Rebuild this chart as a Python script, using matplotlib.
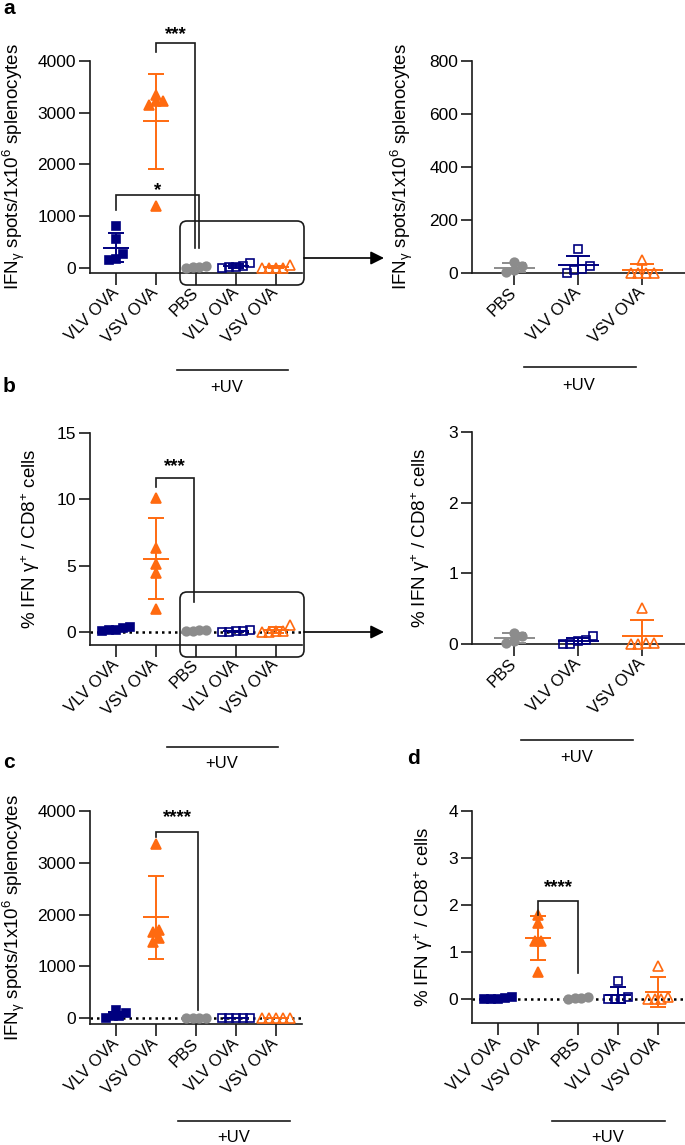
import matplotlib
matplotlib.use("Agg")
import matplotlib.pyplot as plt
import numpy as np
from matplotlib.patches import FancyBboxPatch

plt.rcParams['font.family'] = ['Liberation Sans', 'DejaVu Sans']
plt.rcParams['mathtext.fontset'] = 'custom'
plt.rcParams['mathtext.rm'] = 'Liberation Sans'
plt.rcParams['mathtext.it'] = 'Liberation Sans:italic'
plt.rcParams['mathtext.bf'] = 'Liberation Sans:bold'

# ---- data ----
all_groups = ['VLV OVA', 'VSV OVA', 'PBS', 'VLV OVA', 'VSV OVA']
uv_groups = ['PBS', 'VLV OVA', 'VSV OVA']

# a: ELISpot, IFNg spots / 1e6 splenocytes
a_vlv = [800, 560, 260, 150, 170]
a_vsv = [3350, 3230, 3150, 3220, 1200]
a_pbs_uv = [41, 3, 25, 10]
a_vlv_uv = [0, 28, 92, 10, 16]
a_vsv_uv = [0, 0, 50, 0, 0]

# b: % IFNg+ / CD8+
b_vlv = [0.35, 0.25, 0.15, 0.1, 0.05]
b_vsv = [10.1, 6.3, 5.1, 4.4, 1.7]
b_pbs_uv = [0.16, 0.02, 0.12, 0.04]
b_vlv_uv = [0.0, 0.11, 0.04, 0.06, 0.0]
b_vsv_uv = [0.0, 0.02, 0.51, 0.0, 0.02]

# c: ELISpot
c_vlv = [150, 90, 40, 30, 10]
c_vsv = [3370, 1460, 1660, 1700, 1540]
c_pbs_uv = [0, 0, 0, 0]
c_vlv_uv = [0, 0, 0, 0, 0]
c_vsv_uv = [0, 0, 0, 0, 0]

# d: % IFNg+ / CD8+
d_vlv = [0.05, 0.02, 0.01, 0.0, 0.03]
d_vsv = [1.8, 1.63, 1.25, 1.23, 0.58]
d_pbs_uv = [0.05, 0.03, 0.04, 0.02]
d_vlv_uv = [0.4, 0.0, 0.05, 0.02, 0.0]
d_vsv_uv = [0.72, 0.02, 0.0, 0.05, 0.0]

NAVY = '#00007f'
ORANGE = '#ff6a10'
GRAY = '#8c8c8c'
INK = '#1a1a1a'
FS_YTICK = 12.5
FS_XTICK = 12
FS_LABEL = 13.5
FS_UV = 12

styles = [
    dict(marker='s', color=NAVY, filled=True, ms=6.2),
    dict(marker='^', color=ORANGE, filled=True, ms=6.8),
    dict(marker='o', color=GRAY, filled=True, ms=6.2),
    dict(marker='s', color=NAVY, filled=False, ms=6.4),
    dict(marker='^', color=ORANGE, filled=False, ms=7.0),
]

W, H = 685, 1145
fig = plt.figure(figsize=(W / 100, H / 100), dpi=100)


def add_ax(l, t, r, b):
    return fig.add_axes([l / W, 1 - b / H, (r - l) / W, (b - t) / H])


def style_ax(ax, xlim, ylim, yticks, labels, ylabel, label_right_px, left_px):
    ax.set_xlim(*xlim)
    ax.set_ylim(*ylim)
    for s in ['top', 'right']:
        ax.spines[s].set_visible(False)
    for s in ['left', 'bottom']:
        ax.spines[s].set_linewidth(1.2)
        ax.spines[s].set_color(INK)
    ax.set_yticks(yticks)
    ax.set_yticklabels([str(t) for t in yticks], fontsize=FS_YTICK)
    ax.set_xticks(range(len(labels)))
    ax.set_xticklabels(labels, fontsize=FS_XTICK, rotation=45, ha='right',
                       va='center', rotation_mode='anchor')
    ax.tick_params(axis='y', length=8, width=1.2, color=INK, pad=2)
    ax.tick_params(axis='x', length=8.5, width=1.2, color=INK, pad=4)
    ax.patch.set_visible(False)
    ax.set_ylabel(ylabel, fontsize=FS_LABEL)
    w_px = ax.get_position().width * W
    ax.yaxis.set_label_coords((label_right_px - left_px) / w_px, 0.5)


def swarm(ax, xc, values, diam_px):
    vals = np.asarray(values, dtype=float)
    pts = ax.transData.transform(np.column_stack([np.full(len(vals), xc), vals]))
    ypx = pts[:, 1]
    px_per_x = ax.transData.transform((1, 0))[0] - ax.transData.transform((0, 0))[0]
    order = np.argsort(ypx)
    xs = np.zeros(len(vals))
    rows, row = [], []
    for i in order:
        if row and ypx[i] - ypx[row[0]] > diam_px * 0.9:
            rows.append(row)
            row = []
        row.append(i)
    rows.append(row)
    sp = diam_px * 0.85
    for r in rows:
        n = len(r)
        for k, i in enumerate(r):
            xs[i] = xc + (k - (n - 1) / 2) * sp / px_per_x
    return xs, vals


def draw_group(ax, xc, values, st, diam_px=8.0):
    xs, vals = swarm(ax, xc, values, diam_px)
    ax.plot(xs, vals, ls='none', marker=st['marker'], ms=st['ms'],
            mfc=st['color'] if st['filled'] else 'none', mec=st['color'],
            mew=1.2, clip_on=False, zorder=3)
    m = np.mean(vals)
    sd = np.std(vals, ddof=1)
    c = st['color']
    ax.hlines(m, xc - 0.32, xc + 0.32, color=c, lw=1.4, zorder=4)
    if sd > 0:
        ax.vlines(xc, m - sd, m + sd, color=c, lw=1.4, zorder=4)
        ax.hlines([m - sd, m + sd], xc - 0.19, xc + 0.19, color=c, lw=1.4, zorder=4)


def bracket(ax, x1, x2, y1, y2, ytop, text, ytext):
    ax.plot([x1, x1, x2, x2], [y1, ytop, ytop, y2], color=INK, lw=1.2,
            clip_on=False, zorder=5, solid_joinstyle='miter')
    ax.text((x1 + x2) / 2, ytext, text, ha='center', va='center',
            fontsize=13.5, fontweight='bold', clip_on=False)


def dotted_zero(ax):
    ax.axhline(0, color='black', ls=(0, (1, 1.6)), lw=1.8, zorder=1)


left_xlim = (-0.65, 4.65)
right_xlim = (-0.656, 2.67)
ifn_label = r'IFN$_{\mathregular{γ}}$ spots/1x10$^{\mathregular{6}}$ splenocytes'
pct_label = r'% IFN γ$^{\mathregular{+}}$ / CD8$^{\mathregular{+}}$ cells'

# ---- panel a ----
ax = add_ax(90, 61, 302, 273)
style_ax(ax, left_xlim, (-100, 4000), [0, 1000, 2000, 3000, 4000],
         all_groups, ifn_label, 27, 90)
for i, vals in enumerate([a_vlv, a_vsv, a_pbs_uv, a_vlv_uv, a_vsv_uv]):
    draw_group(ax, i, vals, styles[i])
bracket(ax, 1, 1.98, 4178, 387, 4352, '***', 4520)
bracket(ax, 0, 2.07, 1122, 387, 1412, '*', 1500)

ax = add_ax(472, 61, 685, 273)
style_ax(ax, right_xlim, (0, 800), [0, 200, 400, 600, 800],
         uv_groups, ifn_label, 415, 472)
for i, vals in enumerate([a_pbs_uv, a_vlv_uv, a_vsv_uv]):
    draw_group(ax, i, vals, styles[i + 2], diam_px=9.0)

# ---- panel b ----
ax = add_ax(90, 433, 302, 645)
style_ax(ax, left_xlim, (-1, 15), [0, 5, 10, 15],
         all_groups, pct_label, 42, 90)
dotted_zero(ax)
for i, vals in enumerate([b_vlv, b_vsv, b_pbs_uv, b_vlv_uv, b_vsv_uv]):
    draw_group(ax, i, vals, styles[i])
bracket(ax, 1, 1.95, 10.9, 2.26, 11.58, '***', 12.5)

ax = add_ax(472, 432, 685, 644)
style_ax(ax, right_xlim, (0, 3), [0, 1, 2, 3],
         uv_groups, pct_label, 432, 472)
for i, vals in enumerate([b_pbs_uv, b_vlv_uv, b_vsv_uv]):
    draw_group(ax, i, vals, styles[i + 2], diam_px=9.0)

# ---- panel c ----
ax = add_ax(90, 811, 302, 1024)
style_ax(ax, left_xlim, (-115, 4000), [0, 1000, 2000, 3000, 4000],
         all_groups, ifn_label, 27, 90)
dotted_zero(ax)
for i, vals in enumerate([c_vlv, c_vsv, c_pbs_uv, c_vlv_uv, c_vsv_uv]):
    draw_group(ax, i, vals, styles[i])
bracket(ax, 1, 2.05, 3500, 155, 3598, '****', 3870)

# ---- panel d ----
ax = add_ax(472, 811, 685, 1023)
style_ax(ax, (-0.65, 4.675), (-0.5, 4), [0, 1, 2, 3, 4],
         all_groups, pct_label, 435, 472)
dotted_zero(ax)
for i, vals in enumerate([d_vlv, d_vsv, d_pbs_uv, d_vlv_uv, d_vsv_uv]):
    draw_group(ax, i, vals, styles[i])
bracket(ax, 1, 2, 1.8, 0.57, 2.08, '****', 2.37)

# ---- overlay: boxes, arrows, +UV bars, panel letters ----
ov = fig.add_axes([0, 0, 1, 1])
ov.set_xlim(0, W)
ov.set_ylim(H, 0)
ov.axis('off')

for (y0, h, ya) in [(221, 64, 258), (592, 65, 632)]:
    ov.add_patch(FancyBboxPatch((180, y0), 124, h,
                                boxstyle='round,pad=0,rounding_size=7',
                                fc='none', ec=INK, lw=1.2))
    ov.annotate('', xy=(384, ya), xytext=(304, ya),
                arrowprops=dict(arrowstyle='-|>', color='black', lw=1.2,
                                mutation_scale=20, shrinkA=0, shrinkB=0))

for (x0, x1, yl, xt, yt) in [(177, 288, 370, 227, 388),
                             (524, 636, 367, 579, 386),
                             (167, 278, 747, 222, 763),
                             (521, 633, 740, 577, 757),
                             (178, 290, 1121, 234, 1138),
                             (552, 665, 1121, 608, 1138)]:
    ov.plot([x0, x1], [yl, yl], color=INK, lw=1.2)
    ov.text(xt, yt, '+UV', ha='center', va='center', fontsize=FS_UV)

for (lx, ly, s) in [(3, 9, 'a'), (3, 386, 'b'), (3, 762, 'c'), (407, 759, 'd')]:
    ov.text(lx, ly, s, ha='left', va='center', fontsize=15, fontweight='bold')

fig.savefig('out.png', dpi=100)
